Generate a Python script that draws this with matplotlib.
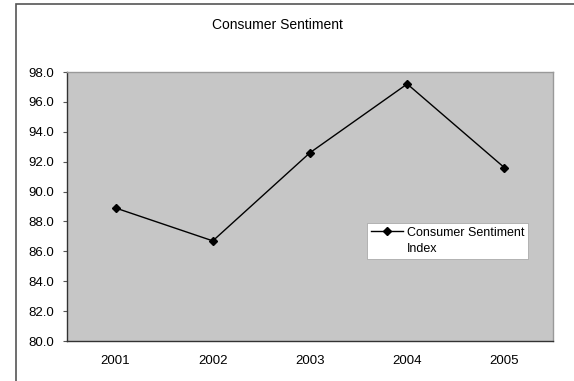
import matplotlib.pyplot as plt
from matplotlib.lines import Line2D
from matplotlib.patches import Rectangle

years = ['2001', '2002', '2003', '2004', '2005']
sentiment = [88.9, 86.7, 92.6, 97.2, 91.6]

plt.rcParams['font.family'] = ['Liberation Sans', 'DejaVu Sans']

fig = plt.figure(figsize=(5.74, 3.81), dpi=100)
fig.patch.set_facecolor('white')

# outer chart frame (only left and top edges visible)
fig.patches.append(Rectangle((16 / 574, -0.05), 1.2, (381 - 4) / 381 + 0.05,
                             transform=fig.transFigure, fill=False,
                             edgecolor='#555555', linewidth=1.2))

ax = fig.add_axes([67 / 574, 1 - 341 / 381, 486 / 574, 269 / 381])
ax.set_facecolor('#c6c6c6')

x = range(len(years))
line, = ax.plot(x, sentiment, color='black', linewidth=1.0, marker='D',
                markersize=4)

ax.set_xlim(-0.5, len(years) - 0.5)
ax.set_ylim(80, 98)
ax.set_yticks([80 + 2 * i for i in range(10)])
ax.set_yticklabels(['%.1f' % (80 + 2 * i) for i in range(10)], fontsize=9.5)
ax.set_xticks(list(x))
ax.set_xticklabels(years, fontsize=9.5)
ax.tick_params(axis='x', length=0, pad=10)
ax.tick_params(axis='y', length=3, pad=6, color='#555555')

for s in ['left', 'bottom']:
    ax.spines[s].set_color('#333333')
    ax.spines[s].set_linewidth(1.0)
for s in ['top', 'right']:
    ax.spines[s].set_color('#999999')
    ax.spines[s].set_linewidth(1.0)

# legend: second row holds the wrapped part of the label
blank = Line2D([], [], linestyle='none')
leg = ax.legend([line, blank], ['Consumer Sentiment', 'Index'],
                loc='upper left',
                bbox_to_anchor=((367 - 67) / 486, (341 - 223) / 269),
                fontsize=9, frameon=True, fancybox=False, borderaxespad=0,
                handlelength=2.6, handletextpad=0.3, borderpad=0.3,
                labelspacing=0.35)
leg.get_frame().set_facecolor('white')
leg.get_frame().set_edgecolor('#aaaaaa')
leg.get_frame().set_linewidth(0.6)
leg.get_frame().set_alpha(1)

fig.text(277 / 574, 1 - 25 / 381, 'Consumer Sentiment', ha='center', va='center',
         fontsize=10)

plt.savefig('out.png', dpi=100)
